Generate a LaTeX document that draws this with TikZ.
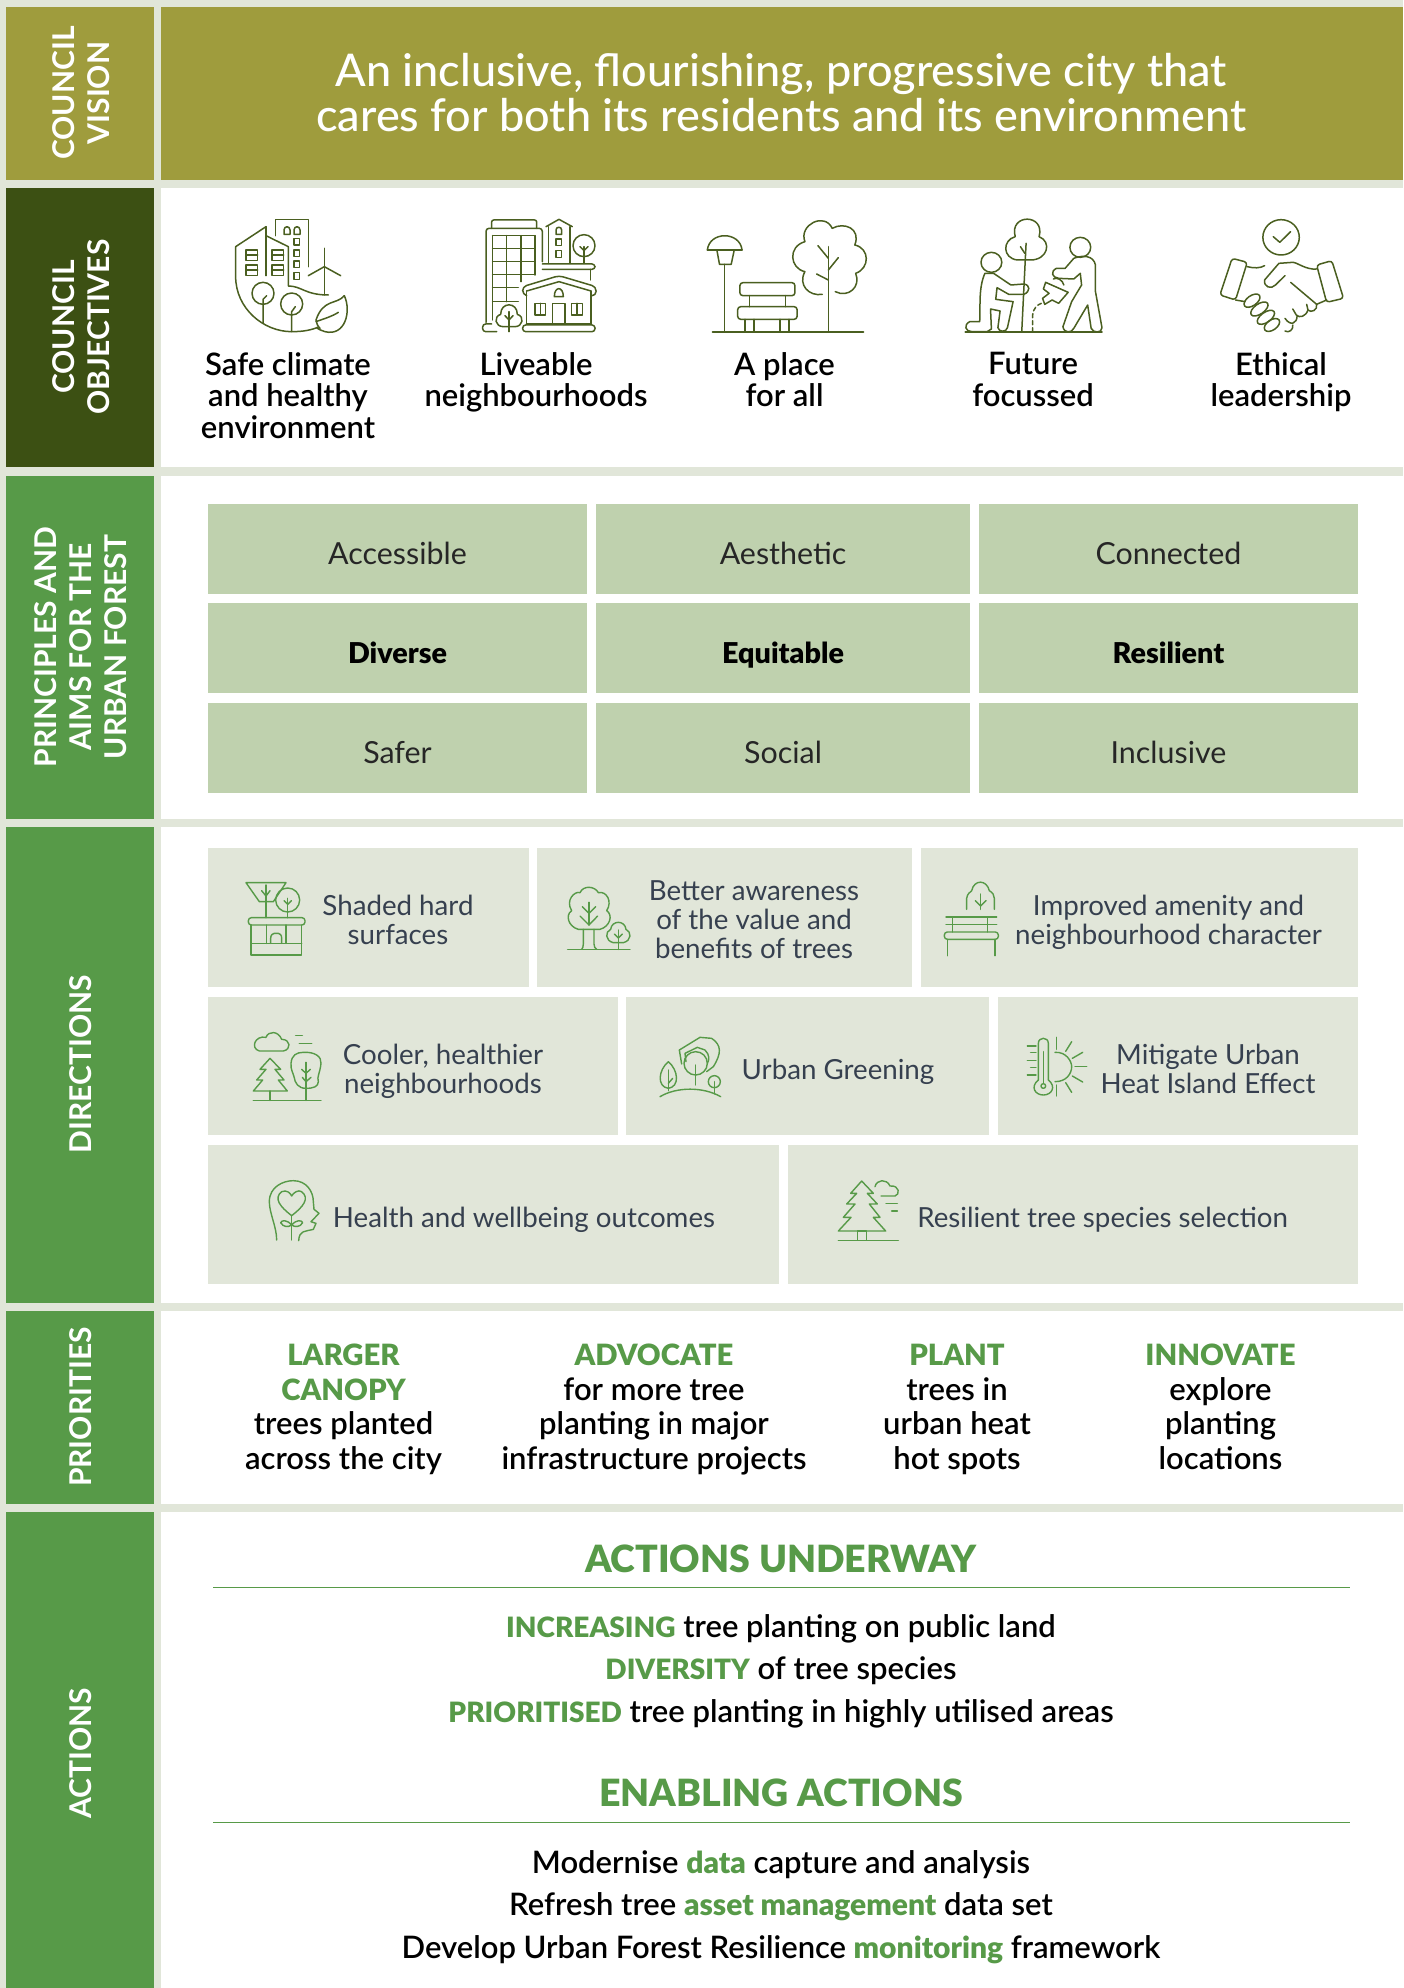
\documentclass[tikz,border=0pt]{standalone}
\usepackage{fontspec}
\setmainfont{Lato}
\newfontfamily\med{Lato Medium}
\newfontfamily\semi{Lato Semibold}
\definecolor{bgpale}{HTML}{E1E6D9}
\definecolor{visioncol}{HTML}{9F9C3D}
\definecolor{objcol}{HTML}{3C5013}
\definecolor{leafcol}{HTML}{579A48}
\definecolor{cellcol}{HTML}{BFD1AE}
\definecolor{slate}{HTML}{36404F}
\definecolor{olive}{HTML}{4A5F20}
\newcommand{\gb}[1]{\textcolor{leafcol}{\semi\bfseries\fontsize{29.3}{34.6}\selectfont #1}}
\newcommand{\gs}[1]{\textcolor{leafcol}{\semi\bfseries\fontsize{28}{34}\selectfont #1}}
\newcommand{\gl}[1]{\textcolor{leafcol}{\semi\bfseries\fontsize{30}{34}\selectfont #1}}
\tikzset{
 sidebar/.style={rotate=90,text=white,align=center,inner sep=0,font=\fontsize{30}{35}\selectfont\bfseries},
 obtext/.style={align=center,inner sep=0,text=black,font=\semi\fontsize{31}{31.5}\selectfont},
 celltext/.style={anchor=base,align=center,inner sep=0,text=black!85,font=\fontsize{30.4}{32}\selectfont},
 cellbold/.style={anchor=base,align=center,inner sep=0,text=black,font=\semi\fontsize{28.7}{32}\selectfont\bfseries},
 dirtext/.style={align=center,inner sep=0,text=slate,font=\fontsize{27.7}{29}\selectfont},
 pritext/.style={align=center,inner sep=0,text=black,font=\semi\fontsize{31}{34.6}\selectfont},
 acthead/.style={inner sep=0,text=leafcol,font=\semi\fontsize{37.5}{40}\selectfont\bfseries},
 actline/.style={inner sep=0,text=black,font=\semi\fontsize{31}{34}\selectfont},
 cico/.style={draw=olive,line width=1.5pt,line cap=round,line join=round},
 gico/.style={draw=leafcol,line width=1.4pt,line cap=round,line join=round},
 zthree/.style={x=0.33333pt,y=-0.33333pt},
 zfour/.style={x=0.43365pt,y=-0.33333pt}
}
\begin{document}
\begin{tikzpicture}[x=1pt,y=-1pt]
\useasboundingbox (0,0) rectangle (1403,1988);
\fill[bgpale] (0,0) rectangle (1403,1988);
% sidebars
\fill[visioncol] (6,7) rectangle (154,180);
\fill[objcol] (6,188) rectangle (154,467);
\fill[leafcol] (6,476) rectangle (154,819);
\fill[leafcol] (6,827) rectangle (154,1303);
\fill[leafcol] (6,1311) rectangle (154,1504);
\fill[leafcol] (6,1512) rectangle (154,1988);
% panels
\fill[visioncol] (161,7) rectangle (1403,180);
\fill[white] (161,188) rectangle (1403,467);
\fill[white] (161,476) rectangle (1403,819);
\fill[white] (161,827) rectangle (1403,1303);
\fill[white] (161,1311) rectangle (1403,1504);
\fill[white] (161,1512) rectangle (1403,1988);
% sidebar labels
\node[sidebar] (lvision) at (81,93) {COUNCIL\\VISION};
\node[sidebar] (lobj) at (81,327) {COUNCIL\\OBJECTIVES};
\node[sidebar] (lprin) at (81,647) {PRINCIPLES AND\\AIMS FOR THE\\URBAN FOREST};
\node[sidebar] (ldir) at (81,1064) {DIRECTIONS};
\node[sidebar] (lpri) at (81,1407) {PRIORITIES};
\node[sidebar] (lact) at (81,1753) {ACTIONS};
% vision
\node[inner sep=0,align=center,text=white,font=\med\fontsize{45}{45}\selectfont] (vision) at (781,93) {An inclusive, flourishing, progressive city that\\cares for both its residents and its environment};
% objectives text
\node[obtext,anchor=north] (ob1) at (288,352) {Safe climate\\and healthy\\environment};
\node[obtext,anchor=north] (ob2) at (536,352) {Liveable\\neighbourhoods};
\node[obtext,anchor=north] (ob3) at (784.5,352) {A place\\for all};
\node[obtext,anchor=north] (ob4) at (1033,352) {Future\\focussed};
\node[obtext,anchor=north] (ob5) at (1281,352) {Ethical\\leadership};
% principles
\foreach \nm/\xa/\xb/\ya/\yb/\txt/\sty in {
 pa/208/587/504/594/Accessible/celltext, pb/596/970/504/594/Aesthetic/celltext, pc/979/1358/504/594/Connected/celltext,
 pd/208/587/603/693/Diverse/cellbold, pe/596/970/603/693/Equitable/cellbold, pf/979/1358/603/693/Resilient/cellbold,
 pg/208/587/703/793/Safer/celltext, ph/596/970/703/793/Social/celltext, pi/979/1358/703/793/Inclusive/celltext}{
  \fill[cellcol] (\xa,\ya) rectangle (\xb,\yb);
  \node[\sty] (\nm) at ({(\xa+\xb)/2},{\ya+60.5}) {\txt};
}
% directions boxes
\foreach \xa/\xb/\ya/\yb in {208/529/848/987,537/912/848/987,921/1358/848/987,
 208/618/997/1135,626/989/997/1135,998/1358/997/1135,
 208/779/1145/1284,788/1358/1145/1284}{
  \fill[bgpale] (\xa,\ya) rectangle (\xb,\yb);
}
\node[dirtext] (d1) at (398,920) {Shaded hard\\surfaces};
\node[dirtext] (d2) at (754,920) {Better awareness\\of the value and\\benefits of trees};
\node[dirtext] (d3) at (1168.5,922) {Improved amenity and\\neighbourhood character};
\node[dirtext] (d4) at (443,1071.5) {Cooler, healthier\\neighbourhoods};
\node[dirtext] (d5) at (838,1072) {Urban Greening};
\node[dirtext] (d6) at (1208,1069) {Mitigate Urban\\Heat Island Effect};
\node[dirtext] (d7) at (524,1219.5) {Health and wellbeing outcomes};
\node[dirtext] (d8) at (1102.6,1219.5) {Resilient tree species selection};
% priorities
\node[pritext,anchor=north] (pr1) at (343.5,1344) {\gb{LARGER}\\\gb{CANOPY}\\trees planted\\across the city};
\node[pritext,anchor=north] (pr2) at (654,1344) {\gb{ADVOCATE}\\for more tree\\planting in major\\infrastructure projects};
\node[pritext,anchor=north] (pr3) at (957,1344) {\gb{PLANT}\\trees in\\urban heat\\hot spots};
\node[pritext,anchor=north] (pr4) at (1220.5,1344) {\gb{INNOVATE}\\explore\\planting\\locations};
% actions
\node[acthead] (ah1) at (781,1559) {ACTIONS UNDERWAY};
\coordinate (r1a) at (213,1587); \coordinate (r1b) at (1350,1587);
\draw[leafcol,line width=1pt] (r1a) -- (r1b);
\node[actline] (a1) at (781,1629) {\gs{INCREASING} tree planting on public land};
\node[actline] (a2) at (781,1671) {\gs{DIVERSITY} of tree species};
\node[actline] (a3) at (781,1714) {\gs{PRIORITISED} tree planting in highly utilised areas};
\node[acthead] (ah2) at (781,1793) {ENABLING ACTIONS};
\coordinate (r2a) at (213,1822.5); \coordinate (r2b) at (1350,1822.5);
\draw[leafcol,line width=1pt] (r2a) -- (r2b);
\node[actline] (a4) at (781,1865) {Modernise \gl{data} capture and analysis};
\node[actline] (a5) at (781,1906.5) {Refresh tree \gl{asset management} data set};
\node[actline] (a6) at (781,1950) {Develop Urban Forest Resilience \gl{monitoring} framework};
% === objective icons, zoom 3 frame
\begin{scope}[shift={(210,205)},zthree,cico]
 % climate
 \draw (168,65)--(77,125)--(77,215) .. controls (77,310) and (160,380) .. (245,380) .. controls (280,380) and (305,375) .. (325,366);
 \draw (168,65)--(168,212);
 \draw (168,92)--(235,125)--(235,243) .. controls (275,243) and (285,270) .. (355,270);
 \draw (196,92)--(196,43)--(295,43)--(295,185);
 \foreach \xx in {108,186}{
  \foreach \yy in {135,180}{
   \draw (\xx,\yy) rectangle ++(35,31); \draw (\xx,\yy+15) -- ++(35,0);}}
 \foreach \yy in {100,135,168,203}{\draw (252,\yy) rectangle ++(17,20);}
 \foreach \xx in {222,252}{\draw (\xx,88)--(\xx,75) .. controls (\xx,62) and (\xx+18,62) .. (\xx+18,75) -- (\xx+18,88) -- cycle;}
 \draw (343,130)--(343,270);
 \draw (295,212)--(343,185)--(392,212);
 \draw (159,265) circle [radius=33];
 \draw (245,297) circle [radius=33];
 \draw (159,355)--(159,283)--(170,272);
 \draw (245,380)--(245,320)--(256,305);
 \draw (403,272) .. controls (380,300) and (340,280) .. (318,345) .. controls (320,355) and (322,362) .. (330,370);
 \draw (403,272) .. controls (425,320) and (405,395) .. (345,380) .. controls (335,378) and (325,372) .. (320,368);
 \draw (318,350) .. controls (345,340) and (365,335) .. (385,322);
 % liveable
 \draw[rounded corners=2pt] (845,70)--(845,45)--(980,45)--(980,70);
 \draw[rounded corners=3pt] (828,352)--(828,70)--(997,70)--(997,170);
 \draw (848,92)--(975,92);
 \foreach \yy/\xe in {130/975,170/975,208/975,248/925,290/925}{\draw (848,\yy)--(\xe,\yy);}
 \draw (848,92)--(848,345);
 \draw (890,92)--(890,290);
 \draw (933,92)--(933,230);
 \draw (975,92)--(975,210);
 \draw (1008,65)--(1047,43)--(1087,65);
 \draw (1015,65)--(1015,175);
 \draw (1080,65)--(1080,175);
 \draw (1038,88)--(1038,75) .. controls (1038,64) and (1055,64) .. (1055,75) -- (1055,88) -- cycle;
 \draw (1038,102) rectangle (1055,122);
 \draw (1038,137) rectangle (1055,157);
 \draw (1122,122) circle [radius=33];
 \draw (1122,175)--(1122,125);
 \draw (1110,125)--(1122,137)--(1134,125);
 \draw[rounded corners=3pt] (997,177)--(1155,177)--(1155,193)--(997,193);
 \draw (1142,193)--(1142,225);
 \draw[rounded corners=4pt] (950,272)--(938,268)--(938,245)--(1047,212)--(1158,245)--(1158,272)--(1143,272);
 \draw (950,258)--(1047,230)--(1143,258);
 \draw (950,258)--(950,358);
 \draw (1143,258)--(1143,358);
 \draw[line width=2pt] (950,358)--(1143,358);
 \draw[rounded corners=3pt] (938,360) rectangle (1155,380);
 \draw (1028,358)--(1028,295)--(1065,295)--(1065,358);
 \draw (975,295) rectangle (1007,330); \draw (991,295)--(991,330);
 \draw (1085,295) rectangle (1118,330); \draw (1101,295)--(1101,330);
 \draw (1033,275) .. controls (1033,243) and (1060,243) .. (1060,275) -- cycle;
 \draw (880,365) .. controls (855,365) and (850,335) .. (872,328) .. controls (872,290) and (922,290) .. (922,328) .. controls (945,335) and (938,365) .. (915,365) -- cycle;
 \draw (897,380)--(897,320);
 \draw (885,332)--(897,345)--(909,332);
 \draw[rounded corners=3pt] (860,380)--(818,380)--(818,357)--(845,357);
\end{scope}
\begin{scope}[shift={(690,205)},zfour,cico]
 % place for all
 \draw (40,135)--(120,135);
 \draw (40,135) .. controls (45,78) and (115,78) .. (120,135);
 \draw (62,135)--(68,178)--(95,178)--(102,135);
 \draw (80,178)--(80,380);
 \draw[line width=1.8pt] (52,380)--(400,380);
 \draw[rounded corners=3pt] (115,233) rectangle (242,272);
 \draw[rounded corners=3pt] (110,305) rectangle (247,343);
 \foreach \xx in {137,220}{\draw (\xx,272)--(\xx,305);}
 \foreach \xx in {127,147,208,228}{\draw (\xx,343)--(\xx,380);}
 \draw (319,380)--(319,125);
 \draw (295,122)--(319,160);
 \draw (319,195)--(342,158);
 \draw (292,207)--(319,225);
 \draw (305,268) .. controls (275,275) and (248,240) .. (265,200) .. controls (230,190) and (225,125) .. (265,110) .. controls (250,60) and (310,20) .. (328,70) .. controls (355,50) and (395,70) .. (380,120) .. controls (415,130) and (415,190) .. (382,205) .. controls (395,245) and (365,280) .. (335,260);
 % future focussed
 \draw[line width=1.8pt] (635,380)--(950,380);
 \draw (765,380)--(775,115);
 \draw (755,165) .. controls (720,160) and (720,105) .. (750,95) .. controls (735,25) and (820,25) .. (805,95) .. controls (835,110) and (825,165) .. (785,165) -- cycle;
 \draw (762,125)--(772,145);
 \draw (695,172) circle [x radius=24,y radius=30];
 \draw (680,205) .. controls (665,250) and (670,300) .. (668,350) -- (645,350) .. controls (630,360) and (635,380) .. (650,380) -- (685,380) -- (695,372) -- (693,312) -- (715,318) -- (710,368) .. controls (712,382) and (730,382) .. (732,368) -- (745,290) -- (705,283) -- (708,248) -- (735,268) -- (770,268) .. controls (785,260) and (785,240) .. (770,237) -- (740,240) -- (700,205) -- cycle;
 \draw (900,127) circle [x radius=24,y radius=30];
 \draw (885,160)--(865,190)--(845,190) .. controls (830,200) and (835,218) .. (850,220) -- (885,222) -- (900,205) -- (903,240) -- (880,290) -- (860,365) .. controls (862,385) and (880,385) .. (885,370) -- (917,300) -- (925,370) .. controls (930,385) and (950,385) .. (950,368) -- (935,260) -- (935,180) .. controls (930,150) and (905,150) .. (885,160);
 \draw (820,232)--(872,262)--(850,295)--(835,285)--(818,298)--(813,280)--(828,265)--(815,252)--cycle;
 \draw (838,222) .. controls (845,215) and (860,225) .. (862,240);
 \draw[dash pattern=on 4pt off 3pt] (790,380)--(790,330) .. controls (792,310) and (800,300) .. (810,295);
 % ethical
 \draw (1363,97) circle [x radius=42,y radius=53];
 \draw (1345,95)--(1360,112)--(1385,80);
 \draw[rounded corners=3pt] (1250,160)--(1285,172)--(1258,285)--(1222,270)--cycle;
 \draw[rounded corners=3pt] (1445,180)--(1480,167)--(1507,280)--(1468,292)--cycle;
 \draw (1285,185) .. controls (1300,190) and (1315,190) .. (1325,182);
 \draw (1445,192) .. controls (1420,195) and (1400,172) .. (1390,172)--(1358,175)--(1325,225) .. controls (1322,245) and (1340,255) .. (1350,240)--(1372,212);
 \draw (1385,232)--(1445,298)--(1468,285);
 \draw (1445,298) .. controls (1448,315) and (1432,325) .. (1425,315)--(1422,298);
 \draw (1425,315) .. controls (1420,335) and (1405,340) .. (1398,330)--(1390,312);
 \draw (1400,332) .. controls (1400,355) and (1385,365) .. (1372,340);
 \draw (1390,360) .. controls (1392,375) and (1380,385) .. (1372,378);
 \draw (1258,285)--(1280,290);
 \draw (1296,287) ellipse [x radius=21,y radius=15,rotate=35];
 \draw (1313,312) ellipse [x radius=23,y radius=15,rotate=35];
 \draw (1328,337) ellipse [x radius=23,y radius=15,rotate=35];
 \draw (1342,360) ellipse [x radius=20,y radius=15,rotate=35];
\end{scope}
% === direction icons
\begin{scope}[shift={(230,870)},zthree,gico]
 \draw (48,38)--(168,38)--(130,95)--(88,95)--cycle;
 \draw (108,45)--(108,143);
 \draw (95,62)--(108,78)--(120,62);
 \draw (173,90) circle [radius=36];
 \draw (173,143)--(173,85);
 \draw (162,92)--(173,103)--(184,92);
 \draw[rounded corners=3pt] (55,143) rectangle (225,165);
 \draw (63,165)--(63,255)--(215,255)--(215,165);
 \draw (63,220)--(215,220);
 \draw (110,165)--(110,220);
 \draw (168,165)--(168,220);
 \draw (122,220)--(122,205) .. controls (122,195) and (128,190) .. (133,190) -- (145,190) .. controls (150,190) and (155,195) .. (155,205) -- (155,220);
 \draw (1060,178)--(1060,222) .. controls (1060,230) and (1058,235) .. (1055,238);
 \draw (1092,178)--(1092,222) .. controls (1092,230) and (1095,235) .. (1100,238);
 \draw (1013,238)--(1200,238);
 \draw (1045,178) .. controls (1015,170) and (1005,135) .. (1025,122) .. controls (1005,90) and (1035,62) .. (1050,68) .. controls (1060,45) and (1095,48) .. (1105,68) .. controls (1130,62) and (1148,95) .. (1130,122) .. controls (1150,135) and (1140,170) .. (1110,178) -- cycle;
 \draw (1077,165)--(1077,97);
 \draw (1057,110)--(1077,130)--(1097,110);
 \draw (1050,138)--(1077,165)--(1103,138);
 \draw (1165,238)--(1165,180);
 \draw (1150,218) .. controls (1125,212) and (1125,185) .. (1142,178) .. controls (1145,150) and (1185,150) .. (1188,178) .. controls (1205,185) and (1205,212) .. (1180,218) -- cycle;
 \draw (1153,192)--(1165,204)--(1177,192);
\end{scope}
\begin{scope}[shift={(930,870)},zthree,gico]
 \draw (110,118)--(110,85) .. controls (112,70) and (120,68) .. (125,62) .. controls (132,28) and (170,28) .. (178,62) .. controls (188,68) and (193,75) .. (193,85) -- (193,118);
 \draw (152,118)--(152,72);
 \draw (136,92)--(152,108)--(168,92);
 \draw (48,141)--(200,141);
 \draw (48,163)--(200,163);
 \draw (68,141)--(68,186);
 \draw (172,141)--(172,186);
 \draw[rounded corners=3pt] (43,186) rectangle (205,208);
 \draw (53,208)--(53,257);
 \draw (195,208)--(195,257);
\end{scope}
\begin{scope}[shift={(240,1020)},zthree,gico]
 \draw (58,93)--(130,93) .. controls (155,88) and (152,58) .. (125,58) .. controls (115,32) and (85,32) .. (78,52) .. controls (45,45) and (30,85) .. (58,93) -- cycle;
 \draw (167,46)--(187,46);
 \draw (178,70)--(215,70);
 \draw (40,241)--(243,241);
 \draw (90,213)--(90,241);
 \draw (90,115)--(122,148)--(105,148)--(132,180)--(115,180)--(142,213)--(40,213)--(68,180)--(50,180)--(78,148)--(60,148)--cycle;
 \draw (198,241)--(198,127);
 \draw (185,148)--(198,160)--(211,148);
 \draw (187,172)--(198,185)--(213,172);
 \draw (153,130) .. controls (155,105) and (170,97) .. (190,97) .. controls (225,95) and (245,110) .. (243,130) .. controls (240,160) and (230,170) .. (235,185) .. controls (235,200) and (220,205) .. (198,205) .. controls (175,205) and (165,190) .. (162,170) .. controls (158,155) and (152,150) .. (153,130);
 \draw (1260,230) .. controls (1310,200) and (1390,200) .. (1442,230);
 \draw (1285,125) .. controls (1255,150) and (1250,200) .. (1285,205) .. controls (1320,200) and (1315,150) .. (1285,125);
 \draw (1285,212)--(1285,150);
 \draw (1285,190)--(1298,175);
 \draw (1367,130) circle [radius=35];
 \draw (1367,195)--(1367,135);
 \draw (1423,185) circle [radius=18];
 \draw (1423,222)--(1423,185);
 \draw (1325,132)--(1318,90)--(1380,52)--(1415,55) .. controls (1445,75) and (1445,100) .. (1420,140) -- (1400,155);
 \draw (1338,125)--(1335,100)--(1372,82)--(1395,90) .. controls (1410,105) and (1408,120) .. (1402,130);
\end{scope}
\begin{scope}[shift={(1010,1020)},zthree,gico]
 \draw (85,180)--(85,70) .. controls (85,50) and (115,50) .. (115,70) -- (115,180);
 \draw (85,180) .. controls (60,200) and (75,225) .. (100,225) .. controls (125,225) and (140,200) .. (115,180);
 \draw (100,198) circle [radius=7];
 \draw (100,95)--(100,190);
 \foreach \yy/\xs in {78/52,97/62,122/52,143/62,165/52}{\draw (\xs,\yy)--(78,\yy);}
 \draw (135,97) .. controls (170,95) and (185,125) .. (185,140) .. controls (185,160) and (170,185) .. (135,185);
 \draw (140,52)--(140,88);
 \draw (167,94)--(185,65);
 \draw (187,115)--(218,97);
 \draw (195,140)--(230,140);
 \draw (187,168)--(218,186);
 \draw (167,188)--(185,217);
 \draw (140,195)--(140,228);
\end{scope}
\begin{scope}[shift={(250,1170)},zthree,gico]
 \draw (80,210) .. controls (80,170) and (58,130) .. (58,95) .. controls (58,50) and (100,32) .. (130,32) .. controls (170,32) and (190,65) .. (190,95)--(192,118)--(207,130)--(183,155)--(198,160)--(190,178) .. controls (165,185) and (148,180) .. (146,212);
 \draw (125,137) .. controls (90,110) and (70,85) .. (95,65) .. controls (110,58) and (122,70) .. (125,78) .. controls (130,68) and (145,58) .. (155,65) .. controls (180,85) and (160,110) .. (125,137) -- cycle;
 \draw (125,137)--(125,210);
 \draw (125,165) .. controls (110,148) and (95,150) .. (92,158) .. controls (100,172) and (115,172) .. (125,165);
 \draw (125,165) .. controls (140,148) and (155,150) .. (158,158) .. controls (150,172) and (135,172) .. (125,165);
\end{scope}
\begin{scope}[shift={(820,1170)},zthree,gico]
 \draw (125,33)--(160,70)--(142,70)--(172,102)--(148,102)--(180,142)--(160,142)--(197,183)--(55,183)--(93,142)--(70,142)--(105,102)--(80,102)--(110,70)--(92,70)--cycle;
 \draw (55,211)--(235,211);
 \draw (112,183) rectangle (140,211);
 \draw (165,50) .. controls (170,28) and (200,25) .. (210,48) .. controls (240,45) and (240,75) .. (225,78)--(183,78);
 \draw (198,100)--(232,100);
 \draw (215,123)--(232,123);
\end{scope}
\end{tikzpicture}
\end{document}
